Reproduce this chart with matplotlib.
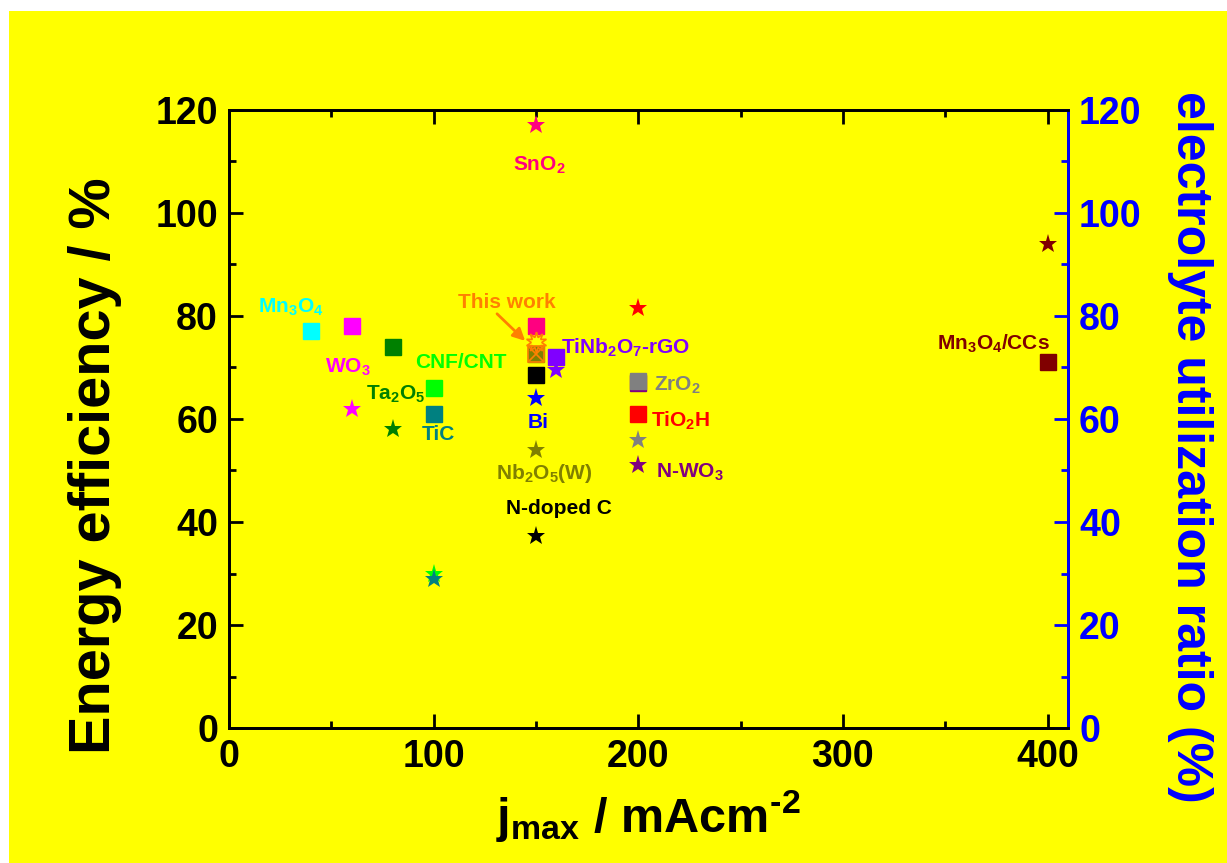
import matplotlib
matplotlib.use("Agg")
import matplotlib.pyplot as plt
from matplotlib.patches import Rectangle
from matplotlib.ticker import MultipleLocator

plt.rcParams['font.family'] = ['Liberation Sans', 'DejaVu Sans']
plt.rcParams['font.weight'] = 'bold'
plt.rcParams['mathtext.fontset'] = 'custom'
plt.rcParams['mathtext.rm'] = 'Liberation Sans:bold'
plt.rcParams['mathtext.it'] = 'Liberation Sans:bold'
plt.rcParams['mathtext.bf'] = 'Liberation Sans:bold'

# energy efficiency (squares, left axis)
sq_x = [40, 60, 80, 100, 100, 150, 150, 150, 160, 200, 200, 200, 400]
sq_y = [77, 78, 74, 66, 61, 78, 72.6, 68.5, 72, 67, 67.4, 61, 71]
sq_c = ['#00FFFF', '#FF00FF', '#008000', '#00FF00', '#008080', '#FF0080',
        '#808000', '#000000', '#8000FF', '#800080', '#808080', '#FF0000', '#800000']

# electrolyte utilization ratio (stars, right axis)
st_x = [150, 60, 80, 100, 100, 150, 150, 160, 200, 200, 200, 400, 150]
st_y = [117, 62, 58, 30, 29, 64, 54, 69.5, 81.5, 56, 51, 94, 37.3]
st_c = ['#FF0080', '#FF00FF', '#008000', '#00FF00', '#008080', '#0000FF',
        '#808000', '#8000FF', '#FF0000', '#808080', '#800080', '#800000', '#000000']

# this work
tw_x = 150
tw_ee = 72.6
tw_eu = 75

labels = [r'SnO$_2$', r'Mn$_3$O$_4$', r'WO$_3$', r'Ta$_2$O$_5$', 'CNF/CNT', 'TiC',
          'This work', 'N-doped C', 'Bi', r'Nb$_2$O$_5$(W)', r'TiNb$_2$O$_7$-rGO',
          r'ZrO$_2$', r'TiO$_2$H', r'N-WO$_3$', r'Mn$_3$O$_4$/CCs']
lab_x = [151.5, 30, 58, 81.6, 113.4, 102.2, 136, 161, 151, 154, 194, 219, 220.5, 225, 373.6]
lab_y = [109.2, 81.6, 70.1, 64.7, 71, 56.9, 82.7, 42.7, 59.4, 49.5, 73.8, 66.6, 59.6, 49.7, 74.6]
lab_c = ['#FF0080', '#00FFFF', '#FF00FF', '#008000', '#00FF00', '#008080', '#FF8000',
         '#000000', '#0000FF', '#808000', '#8000FF', '#808080', '#FF0000', '#800080', '#800000']

fig = plt.figure(figsize=(12.27, 8.63), dpi=100, facecolor='white')
fig.patches.append(Rectangle((9 / 1227, 0), 1, 1 - 11 / 863, transform=fig.transFigure,
                             facecolor='#FFFF00', edgecolor='none', zorder=-10))

ax = fig.add_axes([229 / 1227, 1 - 728 / 863, (1068 - 229) / 1227, (728 - 110) / 863])
ax.set_facecolor('#FFFF00')
ax2 = ax.twinx()

for x, y, c in zip(sq_x, sq_y, sq_c):
    ax.plot(x, y, 's', color=c, markersize=11, zorder=3)
for x, y, c in zip(st_x, st_y, st_c):
    ax2.plot(x, y, '*', color=c, markersize=14, markeredgewidth=0, zorder=3)

# this work markers
ax2.plot(tw_x, tw_eu, marker=(10, 1, 0), markersize=15, markerfacecolor='none',
         markeredgecolor='#FF8000', markeredgewidth=1.2, zorder=4)
ax.plot(tw_x, tw_ee, 's', markersize=11, markerfacecolor='#808000',
        markeredgecolor='#FF8000', markeredgewidth=1.2, zorder=4)
ax.plot(tw_x, tw_ee, 'x', markersize=10, color='#FF8000', markeredgewidth=1.2, zorder=5)

for t, x, y, c in zip(labels, lab_x, lab_y, lab_c):
    ax.text(x, y, t, color=c, fontsize=15, fontweight='bold', ha='center', va='center', zorder=6)

ax.annotate('', xy=(145.7, 74.8), xytext=(130, 80.8),
            arrowprops=dict(arrowstyle='-|>', color='#FF8000', lw=2, mutation_scale=18))

for a in (ax, ax2):
    a.set_xlim(0, 410)
    a.set_ylim(0, 120)
    a.yaxis.set_major_locator(MultipleLocator(20))
    a.yaxis.set_minor_locator(MultipleLocator(10))
ax.xaxis.set_major_locator(MultipleLocator(100))
ax.xaxis.set_minor_locator(MultipleLocator(50))

ax.tick_params(which='both', direction='in', top=True, right=False, width=2,
               labelsize=27, pad=8)
ax.tick_params(which='major', length=10)
ax.tick_params(which='minor', length=5)
ax2.tick_params(which='both', direction='in', colors='#0000FF', width=2, labelsize=27, pad=8)
ax2.tick_params(which='major', length=10)
ax2.tick_params(which='minor', length=5)
for s in ax.spines.values():
    s.set_linewidth(2)
for s in ax2.spines.values():
    s.set_linewidth(2)
ax2.spines['right'].set_color('#0000FF')
for lab in ax.get_xticklabels() + ax.get_yticklabels() + ax2.get_yticklabels():
    lab.set_fontweight('bold')

ax.set_xlabel(r'j$_{max}$ / mAcm$^{\text{-2}}$', fontsize=35, fontweight='bold', labelpad=9)
ax.set_ylabel('Energy efficiency / %', fontsize=41.5, fontweight='bold')
ax.yaxis.set_label_coords(-0.128, 0.424)
ax2.set_ylabel('electrolyte utilization ratio (%)', fontsize=36, fontweight='bold',
               color='#0000FF', rotation=270)
ax2.yaxis.set_label_coords(1.173, 0.455)

fig.savefig('out.png', dpi=100, facecolor=fig.get_facecolor())
